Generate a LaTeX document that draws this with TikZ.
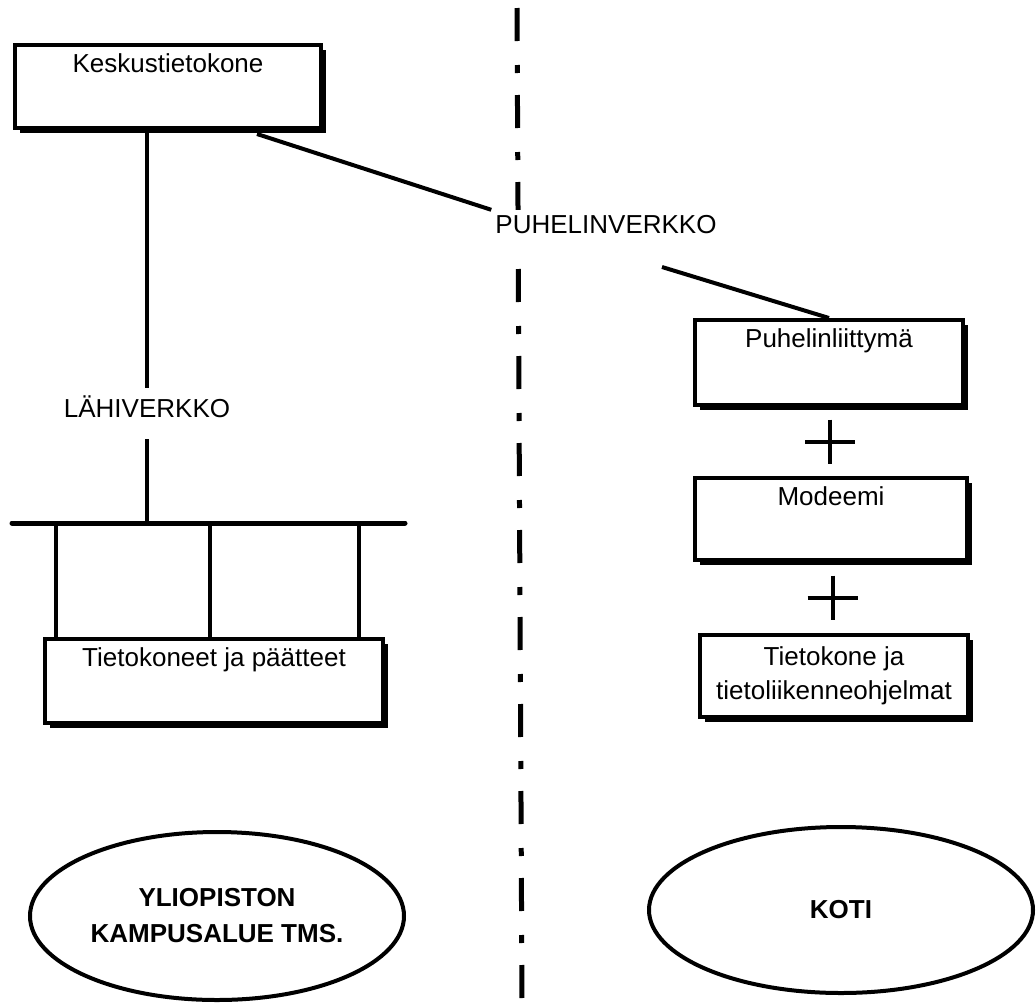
\documentclass[tikz,border=0pt]{standalone}
\usepackage{fontspec}
\setmainfont{Liberation Sans}
\usetikzlibrary{shapes.geometric,shadows,calc}

\tikzset{
  laite/.style={draw, line width=4pt, fill=white, inner xsep=4pt,
    drop shadow={shadow xshift=5pt, shadow yshift=-5pt, opacity=1, fill=black}},
  ylaosa/.style={laite, inner ysep=8pt, text height=19pt},
  verkko/.style={fill=white, inner xsep=4pt, inner ysep=4pt, text height=19pt, text depth=12pt, anchor=base},
  alue/.style={draw, ellipse, line width=4pt, inner sep=0pt, align=center,
    font=\bfseries\fontsize{26}{36}\selectfont},
  johto/.style={line width=4pt}
}

\begin{document}
\begin{tikzpicture}[x=1pt, y=-1pt, font=\fontsize{26}{34}\selectfont]
  \useasboundingbox (0,0) rectangle (1036,1002);
  \draw[line width=5pt, dash pattern=on 33pt off 24pt on 8pt off 22pt] (517,8) -- (522,1002);

  \node[ylaosa, minimum width=306pt, text depth=48pt] (kesk) at (168,86.5) {Keskustietokone};
  \node[verkko, inner ysep=10pt] (lahi) at (147,417) {LÄHIVERKKO};
  \node[verkko] (puh) at (606,233) {PUHELINVERKKO};
  \node[ylaosa, minimum width=338pt, text depth=49pt] (tk) at (214,681) {Tietokoneet ja päätteet};

  \node[ylaosa, minimum width=268pt, text depth=50pt] (liitt) at (829,362.5) {Puhelinliittymä};
  \node[ylaosa, minimum width=272pt, text depth=47pt] (modeemi) at (831,519) {Modeemi};
  \node[laite, minimum width=268pt, minimum height=82pt, inner ysep=0pt, align=center] (tkone) at (834,676) {Tietokone ja\\tietoliikenneohjelmat};

  \coordinate (vaylaw) at (12,523);
  \coordinate (vaylae) at (405,523);
  \coordinate (puhala) at (662,267);

  \draw[johto] (kesk.south -| lahi) -- (lahi.north);
  \draw[johto] (lahi.south) -- (lahi.south |- vaylaw);
  \draw[line width=5pt, line cap=round] (vaylaw) -- (vaylae);
  \foreach \x in {56,210,359}
    \draw[johto] (\x,0 |- vaylaw) -- (\x,0 |- tk.north);

  \draw[johto] ([xshift=89pt,yshift=-4pt]kesk.south) -- (puh.north west);
  \draw[johto] (puhala) -- (liitt.north);

  \foreach \a/\b in {liitt/modeemi, modeemi/tkone}
    \draw[johto] ($(\a.south)!0.5!(\b.north)$) +(-25,0) -- +(25,0) +(0,-22) -- +(0,22);

  \node[alue, minimum width=374pt, minimum height=168pt] (kampus) at (217,916) {YLIOPISTON\\KAMPUSALUE TMS.};
  \node[alue, minimum width=384pt, minimum height=166pt] (koti) at (841,910) {KOTI};
\end{tikzpicture}
\end{document}
